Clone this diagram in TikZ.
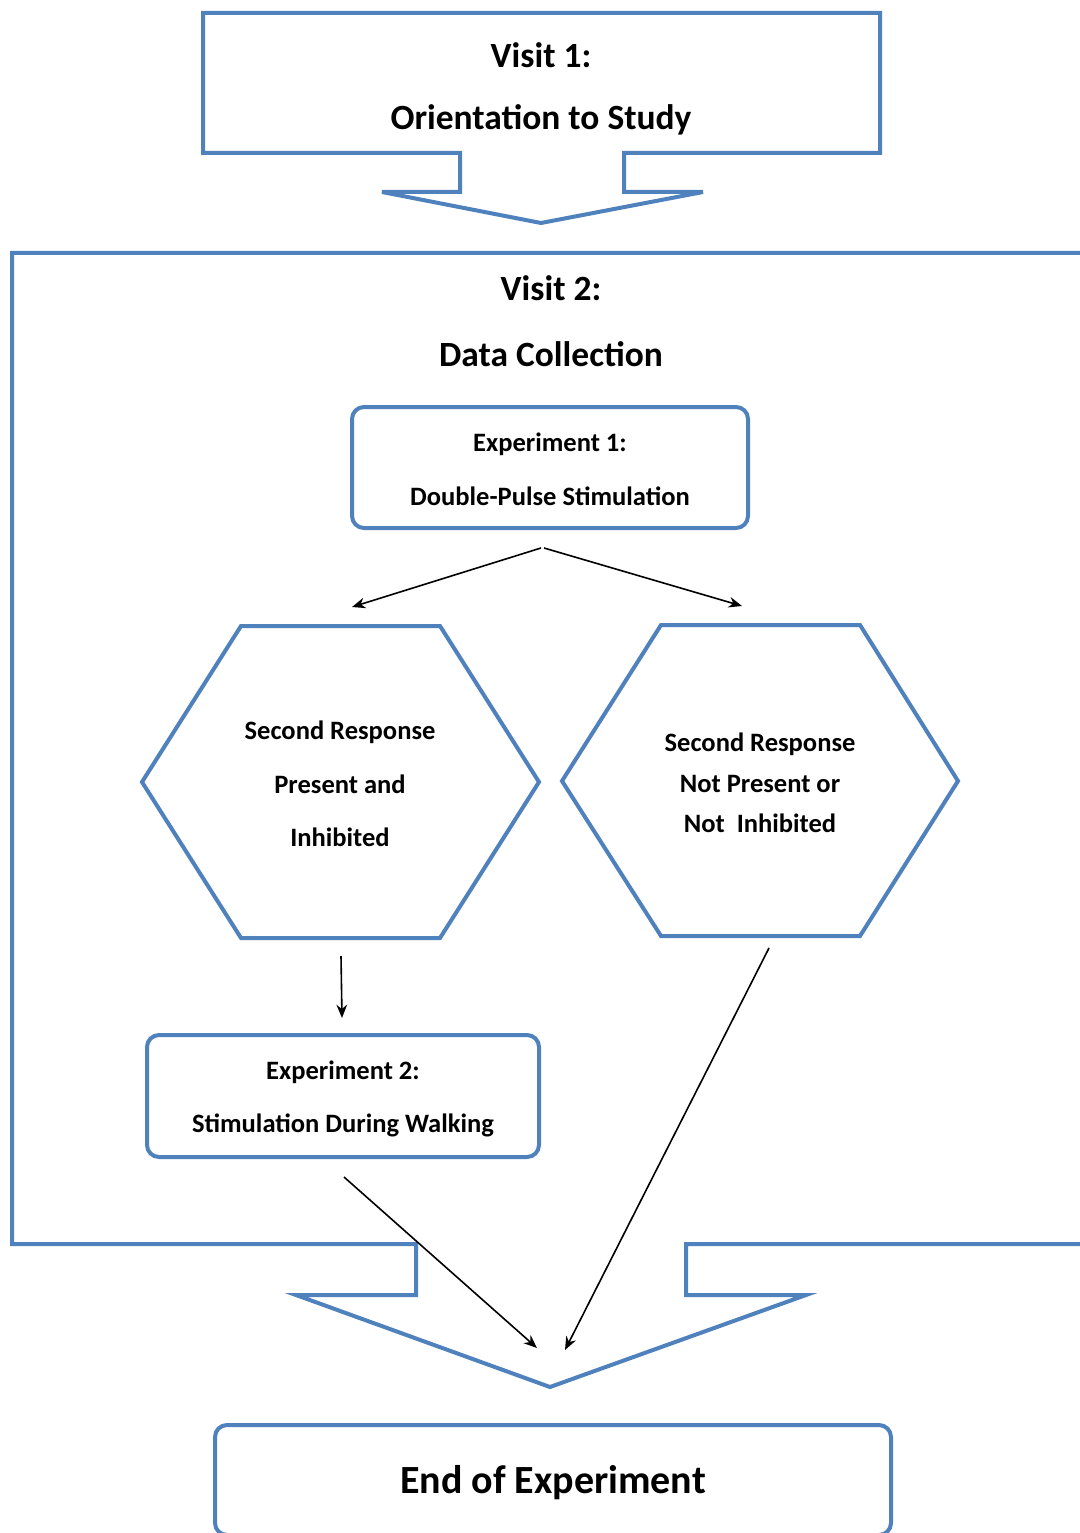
\documentclass[tikz,border=0pt]{standalone}
\usepackage{fontspec}
\setmainfont{Carlito}
\usetikzlibrary{arrows.meta}
\definecolor{bl}{HTML}{4F81BD}
\begin{document}
\begin{tikzpicture}[x=0.75pt,y=-0.75pt,
  bline/.style={draw=bl, line width=3pt, line join=miter},
  rbox/.style={draw=bl, line width=3pt, rounded corners=9pt, inner sep=0pt},
  big/.style={font=\bfseries\fontsize{26.6}{30}\selectfont, inner sep=0pt},
  mid/.style={font=\bfseries\fontsize{19.9}{24}\selectfont, inner sep=0pt},
  huge/.style={font=\bfseries\fontsize{30}{34}\selectfont, inner sep=0pt},
  conn/.style={draw=black, line width=1.2pt, -{Stealth[length=10pt,width=8pt]}}]
\useasboundingbox (0,0) rectangle (1080,1533);
\clip (0,0) rectangle (1080,1533);

% Visit 1 arrow shape
\draw[bline] (203,13) -- (880,13) -- (880,153) -- (624,153) -- (624,192) -- (703,192)
  -- (541,223) -- (382,192) -- (460,192) -- (460,153) -- (203,153) -- cycle;
\node[big] (v1a) at (541,55) {Visit 1:};
\node[big] (v1b) at (541,120) {Orientation to Study};

% Visit 2 arrow shape (extends past right edge)
\draw[bline] (1090,253) -- (12,253) -- (12,1244) -- (416,1244) -- (416,1295) -- (296,1295)
  -- (550,1387) -- (806,1295) -- (686,1295) -- (686,1244) -- (1090,1244);
\node[big] (v2a) at (551,288) {Visit 2:};
\node[big] (v2b) at (551,354) {Data Collection};

% Experiment 1
\node[rbox, minimum width=396*0.75pt, minimum height=121*0.75pt] (exp1) at (550,467.5) {};
\node[mid] (e1a) at (550,444) {Experiment 1:};
\node[mid] (e1b) at (550,496) {Double-Pulse Stimulation};

% Hexagons
\draw[bline] (241,626) -- (440,626) -- (539,782) -- (440,938) -- (241,938) -- (142,782) -- cycle;
\node[mid] (h1a) at (340,732) {Second Response};
\node[mid] (h1b) at (340,784) {Present and};
\node[mid] (h1c) at (340,837) {Inhibited};

\draw[bline] (661,625) -- (860,625) -- (958,781) -- (860,936) -- (661,936) -- (562,781) -- cycle;
\node[mid] (h2a) at (760,744) {Second Response};
\node[mid] (h2b) at (760,784) {Not Present or};
\node[mid] (h2c) at (760,823) {Not\ \ Inhibited};

% Experiment 2
\node[rbox, minimum width=392*0.75pt, minimum height=122*0.75pt] (exp2) at (343,1096) {};
\node[mid] (e2a) at (343,1072) {Experiment 2:};
\node[mid] (e2b) at (343,1125) {Stimulation During Walking};

% End
\node[rbox, minimum width=676*0.75pt, minimum height=110*0.75pt] (endb) at (553,1480) {};
\node[huge] (ende) at (553,1483) {End of Experiment};

% connector endpoints
\coordinate (s1) at (541,548);
\coordinate (s2) at (544,548);
\coordinate (t1) at (352,607);
\coordinate (t2) at (742,606);
\coordinate (s3) at (341,956);
\coordinate (t3) at (342,1018);
\coordinate (s4) at (344,1177);
\coordinate (t4) at (537,1348);
\coordinate (s5) at (769,948);
\coordinate (t5) at (565,1350);

\draw[conn] (s1) -- (t1);
\draw[conn] (s2) -- (t2);
\draw[conn] (s3) -- (t3);
\draw[conn] (s4) -- (t4);
\draw[conn] (s5) -- (t5);
\end{tikzpicture}
\end{document}
